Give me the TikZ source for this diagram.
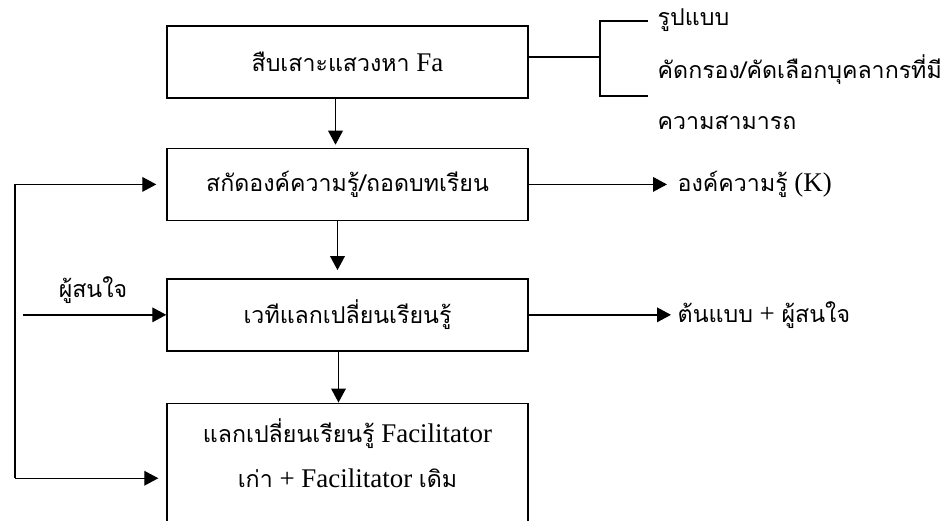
\documentclass[tikz,border=0pt]{standalone}
\usepackage{fontspec}
\setmainfont{Liberation Serif}
\newfontfamily\thaifont[Script=Thai,Scale=0.86]{Loma}
\usetikzlibrary{positioning,arrows.meta,calc}
\newcommand{\thtxt}[1]{{\thaifont #1}}

\begin{document}
\begin{tikzpicture}[x=0.03cm, y=-0.03cm, line width=1.2pt,
	box/.style={draw, minimum width=10.83cm, minimum height=2.16cm, inner sep=0pt, align=center},
	arr/.style={-{Triangle[length=0.42cm, width=0.44cm]}},
	lbl/.style={anchor=west, inner sep=0pt},
	font=\fontsize{23}{28}\selectfont]
	\useasboundingbox (0,0) rectangle (952,520);

	\node[box] (fa) at (347.5,62) {\thtxt{สืบเสาะแสวงหา} Fa};
	\node[box, below=1.47cm of fa] (kn) {\thtxt{สกัดองค์ความรู้/ถอดบทเรียน}};
	\node[box, below=1.71cm of kn] (forum) {\thtxt{เวทีแลกเปลี่ยนเรียนรู้}};
	\node[box, below=1.53cm of forum, minimum height=3.66cm, font=\fontsize{23}{38}\selectfont] (fac)
		{\raisebox{0.24cm}[\height][\depth]{\begin{tabular}{@{}c@{}}
		\thtxt{แลกเปลี่ยนเรียนรู้} Facilitator\\ \thtxt{เก่า} + Facilitator \thtxt{เดิม}\end{tabular}}};

	\coordinate (brMid) at (600,57);
	\coordinate (brTop) at (648,21);
	\coordinate (brBot) at (648,96);
	\node[lbl] (form) at (657,20) {\thtxt{รูปแบบ}};
	\node[lbl] (sel) at (657,70) {\thtxt{คัดกรอง/คัดเลือกบุคลากรที่มี}};
	\node[lbl] (abil) at (657,123) {\thtxt{ความสามารถ}};

	\coordinate (kOut) at (667,0 |- kn.east);
	\coordinate (mOut) at (671,0 |- forum.east);
	\node[lbl] (K) at ($(kOut)+(10,0)$) {\thtxt{องค์ความรู้} (K)};
	\node[lbl] (model) at ($(mOut)+(6,0)$) {\thtxt{ต้นแบบ} + \thtxt{ผู้สนใจ}};

	\coordinate (loopTop) at (15,0 |- kn.west);
	\coordinate (loopBot) at ($(15,0 |- fac.west)+(0,14)$);
	\coordinate (inStart) at (23,0 |- forum.west);
	\node (interest) at (93,290) {\thtxt{ผู้สนใจ}};

	\draw (fa.east |- brMid) -- (brMid);
	\draw (brTop) -| (brMid) |- (brBot);
	\draw[arr] ($(fa.south)+(-12,0)$) -- ($(kn.north)+(-12,-3)$);
	\draw[arr] ($(kn.south)+(-10,0)$) -- ($(forum.north)+(-10,-8)$);
	\draw[arr] ($(forum.south)+(-9,0)$) -- ($(fac.north)+(-9,0)$);
	\draw[arr] (kn.east) -- (kOut);
	\draw[arr] (forum.east) -- (mOut);
	\draw[arr] (inStart) -- (forum.west);
	\draw[arr] (loopBot) -- (loopTop) -- ($(kn.west)+(-10,0)$);
	\draw[arr] (loopBot) -- ($(fac.west)+(-8,14)$);
\end{tikzpicture}
\end{document}
